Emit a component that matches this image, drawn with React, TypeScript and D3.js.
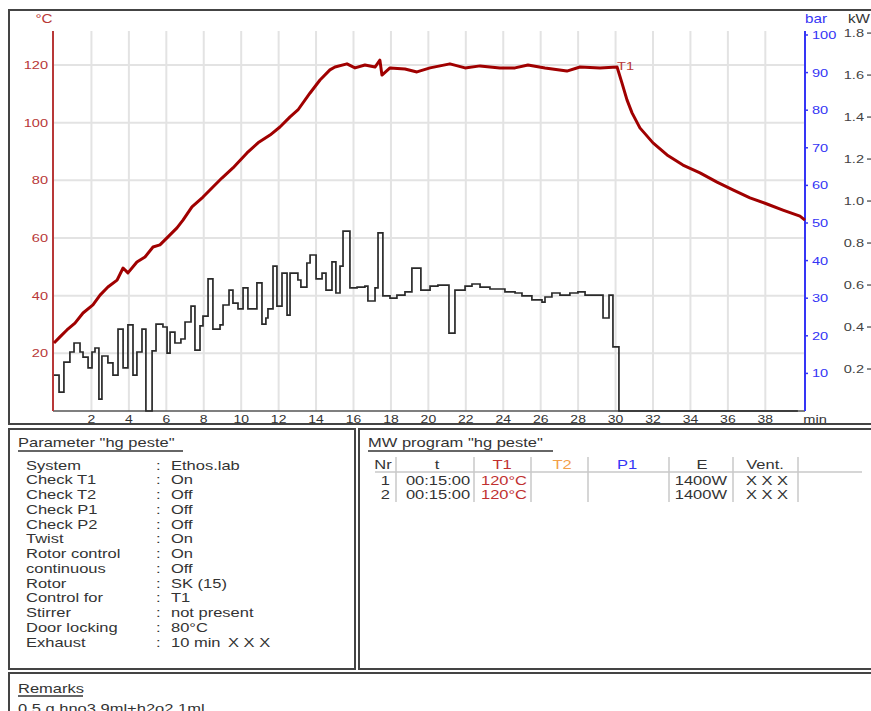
import React from 'react';
import * as d3 from 'd3';

// temperature T1 (°C)
const tempTime = [0, 0.32, 0.69, 1.12, 1.55, 2.08, 2.46, 2.88, 3.37, 3.69, 3.95, 4.43, 4.86, 5.29, 5.66, 6.09, 6.57, 6.89, 7.37, 7.96, 8.49, 8.97, 9.56, 10.31, 10.9, 11.54, 12.07, 12.61, 13.03, 13.68, 14.21, 14.74, 15.01,
  15.65, 16.08, 16.61, 17.15, 17.41, 17.52, 17.95, 18.75, 19.39, 20.09, 21.15, 21.96, 22.76, 23.82, 24.63, 25.32, 26.23, 27.4, 28.1, 29.17, 30.08,
  30.34, 30.61, 30.88, 31.3, 32.0, 32.75, 33.6, 34.51, 35.42, 36.27, 37.18, 38.09, 38.94, 39.85, 40.12];
const tempC = [23.6, 25.7, 28.1, 30.5, 34.0, 36.8, 40.2, 43.0, 45.4, 49.6, 47.9, 51.7, 53.4, 56.9, 57.6, 60.4, 63.5, 66.2, 70.8, 74.2, 77.7, 80.8, 84.3, 89.5, 93.0, 95.7, 98.5, 102.0, 104.4, 110.3, 114.8, 118.3, 119.3,
  120.4, 119.0, 120.0, 119.3, 121.7, 116.5, 119.0, 118.6, 117.6, 119.0, 120.4, 119.0, 119.7, 119.0, 119.0, 120.0, 119.0, 117.9, 119.3, 119.0, 119.3,
  113.8, 107.9, 103.4, 98.2, 93.0, 88.8, 85.3, 82.6, 79.4, 76.7, 73.9, 71.8, 69.7, 67.6, 66.2];

// microwave power (kW), step values
const powerTime = [0, 0.27, 0.53, 0.85, 1.07, 1.39, 1.55, 1.82, 2.03, 2.19, 2.4, 2.56, 2.88, 3.15, 3.42, 3.69, 3.95, 4.22, 4.43, 4.7, 4.91, 5.24, 5.45, 5.82, 6.04, 6.2, 6.46, 6.78, 7.0, 7.32, 7.53,
  7.8, 7.96, 8.23, 8.49, 8.87, 9.03, 9.35, 9.56, 9.83, 10.1, 10.36, 10.84, 11.11, 11.32, 11.43, 11.7, 11.91, 12.18, 12.45, 12.61, 13.03, 13.19, 13.51, 13.68, 14.0, 14.32, 14.53, 14.85, 15.06, 15.28, 15.44, 15.81, 16.19,
  16.61, 16.77, 17.15, 17.31, 17.57, 17.95, 18.32, 18.75, 19.12, 19.6, 20.09, 20.51, 21.1, 21.42, 21.96, 22.33, 22.76, 23.29, 24.09, 24.63, 25.0, 25.53, 26.07, 26.23, 26.6, 27.03, 27.56, 27.99, 28.37, 29.33, 29.65, 29.86, 30.18, 39.74];
const powerKW = [0.171, 0.09, 0.233, 0.281, 0.324, 0.281, 0.257, 0.205, 0.281, 0.3, 0.057, 0.262, 0.229, 0.171, 0.39, 0.205, 0.41, 0.171, 0.281, 0.39, 0, 0.286, 0.414, 0.4, 0.276, 0.376, 0.324, 0.343, 0.424, 0.5, 0.29,
  0.405, 0.452, 0.629, 0.39, 0.41, 0.505, 0.576, 0.514, 0.486, 0.586, 0.486, 0.61, 0.414, 0.443, 0.486, 0.69, 0.5, 0.657, 0.457, 0.657, 0.624, 0.59, 0.705, 0.743, 0.629, 0.657, 0.576, 0.71, 0.562, 0.69, 0.857, 0.586, 0.59,
  0.595, 0.524, 0.586, 0.848, 0.548, 0.538, 0.552, 0.567, 0.681, 0.576, 0.595, 0.6, 0.371, 0.576, 0.595, 0.605, 0.59, 0.581, 0.567, 0.562, 0.548, 0.529, 0.519, 0.543, 0.562, 0.552, 0.562, 0.567, 0.552, 0.443, 0.552, 0.305, 0, 0];

const timeTicks = [2, 4, 6, 8, 10, 12, 14, 16, 18, 20, 22, 24, 26, 28, 30, 32, 34, 36, 38];
const tempTicks = [20, 40, 60, 80, 100, 120];
const pressureTicks = [10, 20, 30, 40, 50, 60, 70, 80, 90, 100];
const powerTicks = [0.2, 0.4, 0.6, 0.8, 1.0, 1.2, 1.4, 1.6, 1.8];

const paramLabels = ['System', 'Check T1', 'Check T2', 'Check P1', 'Check P2', 'Twist', 'Rotor control', 'continuous', 'Rotor', 'Control for', 'Stirrer', 'Door locking', 'Exhaust'];
const paramValues = ['Ethos.lab', 'On', 'Off', 'Off', 'Off', 'On', 'On', 'Off', 'SK (15)', 'T1', 'not present', '80°C', '10 min'];

const progHeaders = ['Nr', 't', 'T1', 'T2', 'P1', 'E', 'Vent.'];
const progNr = ['1', '2'];
const progTime = ['00:15:00', '00:15:00'];
const progT1 = ['120°C', '120°C'];
const progE = ['1400W', '1400W'];
const progVent = ['X X X', 'X X X'];

const SX = 1.27;
const FONT = 'Liberation Sans, Arial, sans-serif';
const RED = '#b83838';
const BLUE = '#3535f5';

const Txt = ({ x, y, anchor = 'start', size = 13, fill = '#333', children }: any) => (
  <text transform={`translate(${x},${y}) scale(${SX},1)`} textAnchor={anchor} fontSize={size} fill={fill} fontFamily={FONT}>
    {children}
  </text>
);

const App = () => {
  const top = 31;
  const bottom = 411;
  const left = 54;
  const right = 805;

  const x = d3.scaleLinear().domain([0, 40.12]).range([left, right]);
  const yT = d3.scaleLinear().domain([0, 131.8]).range([bottom, top]);
  const yP = d3.scaleLinear().domain([0, 101.06]).range([bottom, top]);
  const yW = d3.scaleLinear().domain([0, 1.81]).range([bottom, top]);

  const tempLine = d3.line<number>()
    .x((_, i) => x(tempTime[i]))
    .y((d) => yT(d));
  const powerLine = d3.line<number>()
    .x((_, i) => x(powerTime[i]))
    .y((d) => yW(d))
    .curve(d3.curveStepAfter);

  const colHeadX = [383, 437, 502, 562, 627, 702, 765];
  const headColors = ['#333', '#333', '#c03030', '#f2a04a', BLUE, '#333', '#333'];
  const sepX = [396, 474, 531, 588, 669, 733, 798];

  return (
    <div style={{ position: 'absolute', left: 0, top: 0 }}>
      <svg width={871} height={711} style={{ display: 'block', background: '#fff' }}>
        {/* frames */}
        <rect x={9} y={10} width={900} height={414} fill="none" stroke="#444" strokeWidth={2} />
        <rect x={9} y={429} width={346} height={240} fill="none" stroke="#444" strokeWidth={2} />
        <rect x={359} y={429} width={540} height={240} fill="none" stroke="#444" strokeWidth={2} />
        <rect x={9} y={673} width={900} height={60} fill="none" stroke="#444" strokeWidth={2} />

        {/* grid */}
        {timeTicks.map((t) => (
          <line key={'gx' + t} x1={x(t)} x2={x(t)} y1={top} y2={bottom} stroke="#e3e3e3" strokeWidth={2} />
        ))}
        {tempTicks.map((v) => (
          <line key={'gy' + v} x1={left - 1} x2={right} y1={yT(v)} y2={yT(v)} stroke="#e3e3e3" strokeWidth={2} />
        ))}

        {/* x axis */}
        <line x1={left - 1} x2={right} y1={bottom} y2={bottom} stroke="#555" strokeWidth={1.5} />
        {timeTicks.map((t) => (
          <Txt key={'xt' + t} x={x(t)} y={423} anchor="middle" size={11}>{t}</Txt>
        ))}
        <Txt x={815} y={423} anchor="middle" size={11.5}>min</Txt>

        {/* temperature axis */}
        <line x1={left - 1} x2={left - 1} y1={top} y2={bottom} stroke={RED} strokeWidth={2} />
        {tempTicks.map((v) => (
          <Txt key={'yt' + v} x={48} y={yT(v) + 4} anchor="end" size={11.5} fill={RED}>{v}</Txt>
        ))}
        <Txt x={44} y={23} anchor="middle" size={12} fill={RED}>°C</Txt>

        {/* pressure axis */}
        <line x1={right} x2={right} y1={top} y2={bottom} stroke={BLUE} strokeWidth={2} />
        {pressureTicks.map((v) => (
          <g key={'pt' + v}>
            <line x1={right} x2={right + 3} y1={yP(v)} y2={yP(v)} stroke={BLUE} strokeWidth={1.5} />
            <Txt x={812} y={yP(v) + 4} size={11.5} fill={BLUE}>{v}</Txt>
          </g>
        ))}
        <Txt x={816} y={23} anchor="middle" size={12} fill={BLUE}>bar</Txt>

        {/* power axis (cut at page edge) */}
        {powerTicks.map((v) => (
          <g key={'wt' + v}>
            <Txt x={864} y={yW(v) + 4} anchor="end" size={11.5} fill="#444">{v.toFixed(1)}</Txt>
            <line x1={867} x2={872} y1={yW(v)} y2={yW(v)} stroke="#666" strokeWidth={1.5} />
          </g>
        ))}
        <Txt x={848} y={23} size={12} fill="#333">kW</Txt>

        {/* data */}
        <path d={powerLine(powerKW) || ''} fill="none" stroke="#2a2a2a" strokeWidth={1.7} />
        <path d={tempLine(tempC) || ''} fill="none" stroke="#a00000" strokeWidth={3} strokeLinejoin="round" />
        <Txt x={x(30.08)} y={70} size={11.5} fill={RED}>T1</Txt>

        {/* parameter box */}
        <Txt x={18} y={447} size={13}>Parameter  "hg peste"</Txt>
        <line x1={18} x2={183} y1={451} y2={451} stroke="#333" strokeWidth={1.5} />
        {paramLabels.map((lab, i) => (
          <g key={'pr' + i}>
            <Txt x={26} y={469.5 + i * 14.75}>{lab}</Txt>
            <Txt x={156} y={469.5 + i * 14.75}>:</Txt>
            <Txt x={171} y={469.5 + i * 14.75}>{paramValues[i]}</Txt>
          </g>
        ))}
        <Txt x={228} y={469.5 + 12 * 14.75}>X X X</Txt>

        {/* MW program box */}
        <Txt x={368} y={447} size={13}>MW program  "hg peste"</Txt>
        <line x1={368} x2={553} y1={451} y2={451} stroke="#333" strokeWidth={1.5} />
        {sepX.map((sx) => (
          <line key={'sep' + sx} x1={sx} x2={sx} y1={457} y2={502} stroke="#c8c8c8" strokeWidth={1.5} />
        ))}
        <line x1={375} x2={862} y1={472} y2={472} stroke="#c8c8c8" strokeWidth={1.5} />
        {progHeaders.map((h, i) => (
          <Txt key={'ph' + i} x={colHeadX[i]} y={469} anchor="middle" fill={headColors[i]}>{h}</Txt>
        ))}
        {progNr.map((n, i) => {
          const yy = 484.5 + i * 14;
          return (
            <g key={'row' + i}>
              <Txt x={390} y={yy} anchor="end">{n}</Txt>
              <Txt x={438} y={yy} anchor="middle">{progTime[i]}</Txt>
              <Txt x={504} y={yy} anchor="middle" fill="#c03030">{progT1[i]}</Txt>
              <Txt x={727} y={yy} anchor="end">{progE[i]}</Txt>
              <Txt x={767} y={yy} anchor="middle">{progVent[i]}</Txt>
            </g>
          );
        })}

        {/* remarks */}
        <Txt x={18} y={693} size={13}>Remarks</Txt>
        <line x1={18} x2={83} y1={696} y2={696} stroke="#333" strokeWidth={1.5} />
        <Txt x={18} y={713} size={13}>0.5 g hno3 9ml+h2o2 1ml</Txt>
      </svg>
    </div>
  );
};

export default App;
